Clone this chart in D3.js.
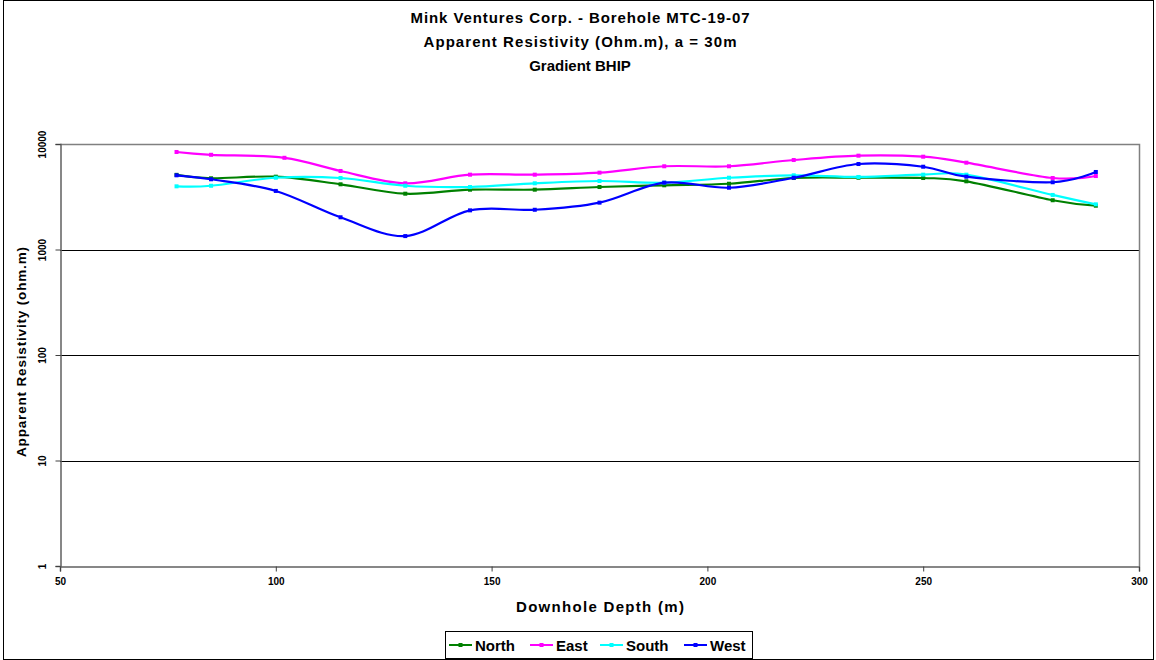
<!DOCTYPE html>
<html>
<head>
<meta charset="utf-8">
<script src="https://cdn.jsdelivr.net/npm/d3@7"></script>
<style>
  html, body { margin: 0; padding: 0; background: #fff; }
  svg { display: block; font-family: "Liberation Sans", Arial, sans-serif; }
</style>
</head>
<body>
<svg id="chart" width="1156" height="660"></svg>
<script>
// Downhole depths (m) for each station
const depthNorth = [77, 85, 100, 115, 130, 145, 160, 175, 190, 205, 220, 235, 250, 260, 280, 290];
const depthEast  = [77, 85, 102, 115, 130, 145, 160, 175, 190, 205, 220, 235, 250, 260, 280, 290];
const depthSouth = [77, 85, 100, 115, 130, 145, 160, 175, 190, 205, 220, 235, 250, 260, 280, 290];
const depthWest  = [77, 85, 100, 115, 130, 145, 160, 175, 190, 205, 220, 235, 250, 260, 280, 290];

// Apparent resistivity (ohm.m)
const north = [5100, 4730, 4900, 4150, 3380, 3690, 3690, 3910, 4060, 4200, 4760, 4790, 4760, 4430, 2930, 2600];
const east  = [8400, 7900, 7400, 5550, 4240, 5120, 5120, 5350, 6150, 6150, 7050, 7750, 7580, 6650, 4760, 4970];
const south = [3970, 4020, 4790, 4760, 4020, 3910, 4240, 4460, 4300, 4790, 5050, 4870, 5120, 5120, 3290, 2680];
const west  = [5050, 4630, 3590, 2020, 1340, 2350, 2380, 2780, 4300, 3850, 4790, 6460, 6090, 4900, 4340, 5430];

const seriesNames  = ["North", "East", "South", "West"];
const seriesColors = ["#008000", "#ff00ff", "#00ffff", "#0000ff"];

const xTicks = [50, 100, 150, 200, 250, 300];
const yTicks = [1, 10, 100, 1000, 10000];

const titleLines = [
  "Mink Ventures Corp. - Borehole MTC-19-07",
  "Apparent Resistivity (Ohm.m), a = 30m",
  "Gradient BHIP"
];
const titleWidths = [339, 313, null];

const series = [
  { name: seriesNames[0], color: seriesColors[0], depth: depthNorth, values: north },
  { name: seriesNames[1], color: seriesColors[1], depth: depthEast,  values: east  },
  { name: seriesNames[2], color: seriesColors[2], depth: depthSouth, values: south },
  { name: seriesNames[3], color: seriesColors[3], depth: depthWest,  values: west  }
];

const svg = d3.select("#chart");
const W = 1156, H = 660;
const plot = { left: 60, right: 1139, top: 144, bottom: 566 };

// Outer frame
svg.append("rect")
  .attr("x", 3.5).attr("y", 0.5).attr("width", W - 6).attr("height", H - 1)
  .attr("fill", "#fff").attr("stroke", "#000").attr("stroke-width", 1);

const x = d3.scaleLinear().domain([50, 300]).range([plot.left, plot.right]);
const y = d3.scaleLog().domain([1, 10000]).range([plot.bottom, plot.top]);

// Horizontal gridlines at decades
svg.append("g")
  .selectAll("line")
  .data(yTicks.slice(1, -1))
  .join("line")
  .attr("x1", plot.left).attr("x2", plot.right)
  .attr("y1", d => Math.round(y(d)) + 0.5).attr("y2", d => Math.round(y(d)) + 0.5)
  .attr("stroke", "#000").attr("stroke-width", 1);

// Plot area border (top and right)
svg.append("path")
  .attr("d", `M${plot.left},${plot.top + 0.5}H${plot.right + 0.5}V${plot.bottom}`)
  .attr("fill", "none").attr("stroke", "#808080").attr("stroke-width", 1.5);

// X axis
const xAxis = d3.axisBottom(x).tickValues(xTicks).tickSize(5).tickPadding(6).tickFormat(d3.format("d"));
const gx = svg.append("g").attr("transform", `translate(0,${plot.bottom + 0.5})`).call(xAxis);
gx.select(".domain").attr("stroke", "#606060").attr("stroke-width", 1.5);
gx.selectAll(".tick line").attr("stroke", "#404040");
gx.selectAll(".tick text")
  .attr("font-family", "'Liberation Sans', Arial, sans-serif")
  .attr("font-size", 10).attr("font-weight", "bold").attr("fill", "#000");

// Y axis
const yAxis = d3.axisLeft(y).tickValues(yTicks).tickSize(5).tickPadding(0).tickFormat(d3.format("d"));
const gy = svg.append("g").attr("transform", `translate(${plot.left + 0.5},0)`).call(yAxis);
gy.select(".domain").attr("stroke", "#606060").attr("stroke-width", 1.5);
gy.selectAll(".tick line").attr("stroke", "#404040");
gy.selectAll(".tick text")
  .attr("font-family", "'Liberation Sans', Arial, sans-serif")
  .attr("font-size", 10).attr("font-weight", "bold").attr("fill", "#000")
  .attr("text-anchor", "middle")
  .attr("x", null).attr("dy", null)
  .attr("transform", "translate(-18,0) rotate(-90)")
  .attr("dominant-baseline", "central");

// Series lines with smooth curves
const line = d3.line()
  .x(d => x(d[0]))
  .y(d => y(d[1]))
  .curve(d3.curveCardinal.tension(0));

const gSeries = svg.append("g");
series.forEach(s => {
  const pts = s.depth.map((d, i) => [d, s.values[i]]);
  gSeries.append("path")
    .datum(pts)
    .attr("d", line)
    .attr("fill", "none")
    .attr("stroke", s.color)
    .attr("stroke-width", 2.2);
  gSeries.append("g")
    .selectAll("rect")
    .data(pts)
    .join("rect")
    .attr("x", d => x(d[0]) - 2).attr("y", d => y(d[1]) - 2)
    .attr("width", 4).attr("height", 4)
    .attr("fill", s.color);
});

// Title
svg.append("g")
  .selectAll("text")
  .data(titleLines)
  .join("text")
  .attr("x", 580).attr("y", (d, i) => 23 + i * 24)
  .attr("text-anchor", "middle")
  .attr("font-size", 15).attr("font-weight", "bold").attr("fill", "#000")
  .attr("textLength", (d, i) => titleWidths[i])
  .attr("lengthAdjust", (d, i) => titleWidths[i] ? "spacing" : null)
  .text(d => d);

// Axis titles
svg.append("text")
  .attr("x", 600).attr("y", 612)
  .attr("text-anchor", "middle")
  .attr("font-size", 15).attr("font-weight", "bold").attr("fill", "#000")
  .attr("textLength", 168).attr("lengthAdjust", "spacing")
  .text("Downhole Depth (m)");

svg.append("text")
  .attr("transform", "translate(26,352) rotate(-90)")
  .attr("text-anchor", "middle")
  .attr("font-size", 13.5).attr("font-weight", "bold").attr("fill", "#000")
  .attr("textLength", 210).attr("lengthAdjust", "spacing")
  .text("Apparent Resistivity (ohm.m)");

// Legend
const legend = svg.append("g");
legend.append("rect")
  .attr("x", 445.5).attr("y", 631.5).attr("width", 307).attr("height", 27)
  .attr("fill", "#fff").attr("stroke", "#000").attr("stroke-width", 1);
const legendX = [449, 530, 600, 684];
series.forEach((s, i) => {
  const lx = legendX[i], ly = 645;
  legend.append("line")
    .attr("x1", lx).attr("x2", lx + 23).attr("y1", ly).attr("y2", ly)
    .attr("stroke", s.color).attr("stroke-width", 2);
  legend.append("rect")
    .attr("x", lx + 9.5).attr("y", ly - 2).attr("width", 4).attr("height", 4)
    .attr("fill", s.color);
  legend.append("text")
    .attr("x", lx + 26).attr("y", ly + 5.5)
    .attr("font-size", 15).attr("font-weight", "bold").attr("fill", "#000")
    .text(s.name);
});
</script>
</body>
</html>
